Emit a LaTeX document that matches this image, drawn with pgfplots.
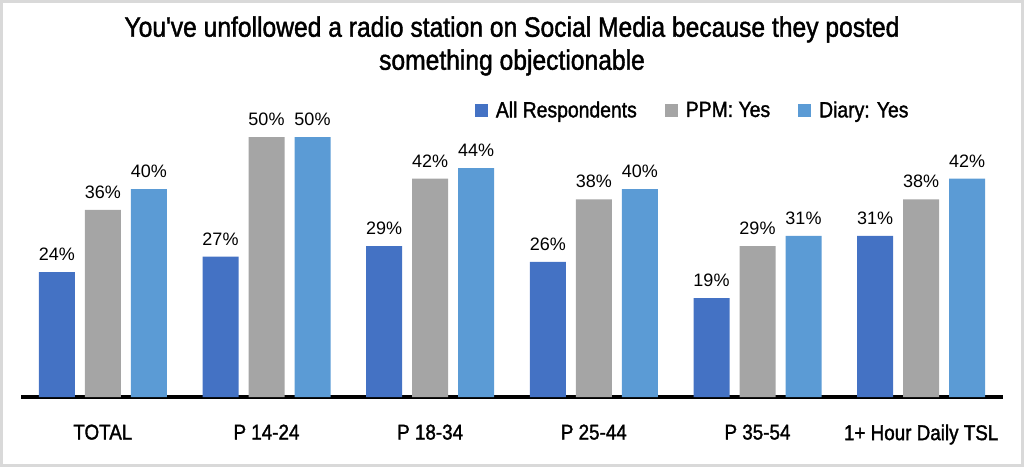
\documentclass[border=0pt]{standalone}
\usepackage{fontspec}
\setmainfont{Liberation Sans}
\newfontfamily\cond[FakeStretch=0.88, FakeBold=1.5]{Liberation Sans}
\usepackage{pgfplots}
\pgfplotsset{compat=1.18}
\definecolor{c1}{HTML}{4472C4}
\definecolor{c2}{HTML}{A5A5A5}
\definecolor{c3}{HTML}{5B9BD5}
\definecolor{frame}{HTML}{D9D9D9}
\begin{document}
\begin{tikzpicture}
\begin{axis}[name=ax,
  scale only axis, width=491pt, height=156pt,
  xmin=-0.5, xmax=5.5, ymin=0, ymax=60,
  ybar=5pt, bar width=18pt,
  axis x line*=bottom, axis y line=none,
  x axis line style={line width=2pt,-},
  xtick={0,...,5}, xtick style={draw=none},
  xticklabels={TOTAL,P 14-24,P 18-34,P 25-44,P 35-54,1+ Hour Daily TSL},
  xticklabel style={font=\cond\fontsize{10.7}{12}\selectfont, yshift=-6pt},
  ytick=\empty,
  clip=false,
  /pgf/number format/assume math mode=true,
  nodes near coords={\pgfmathprintnumber{\pgfplotspointmeta}\%},
  every node near coord/.append style={font=\fontsize{9}{10}\selectfont, inner sep=0pt, yshift=5.5pt, text=black},
  legend style={at={(axis description cs:0.685,0.917)}, anchor=center, draw=none, fill=none,
    legend columns=3, font=\cond\fontsize{11}{13}\selectfont,
    /tikz/every odd column/.append style={column sep=2pt},
    /tikz/every even column/.append style={column sep=12pt}},
  legend image code/.code={\fill[#1] (0pt,-3.25pt) rectangle (6.5pt,3.25pt);},
]
\addplot[fill=c1, draw=none] coordinates {(0,24) (1,27) (2,29) (3,26) (4,19) (5,31)};
\addplot[fill=c2, draw=none] coordinates {(0,36) (1,50) (2,42) (3,38) (4,29) (5,38)};
\addplot[fill=c3, draw=none] coordinates {(0,40) (1,50) (2,44) (3,40) (4,31) (5,42)};
\legend{All Respondents, PPM: Yes, Diary: Yes}
\end{axis}
\node[align=center, font=\cond\fontsize{14}{16.5}\selectfont] at ([xshift=245.5pt, yshift=175.5pt]ax.south west) {You've unfollowed a radio station on Social Media because they posted\\something objectionable};
\draw[frame, line width=1.5pt] ([xshift=-9.75pt, yshift=-34.25pt]ax.south west) rectangle ([xshift=500.75pt, yshift=197.75pt]ax.south west);
\end{tikzpicture}
\end{document}
